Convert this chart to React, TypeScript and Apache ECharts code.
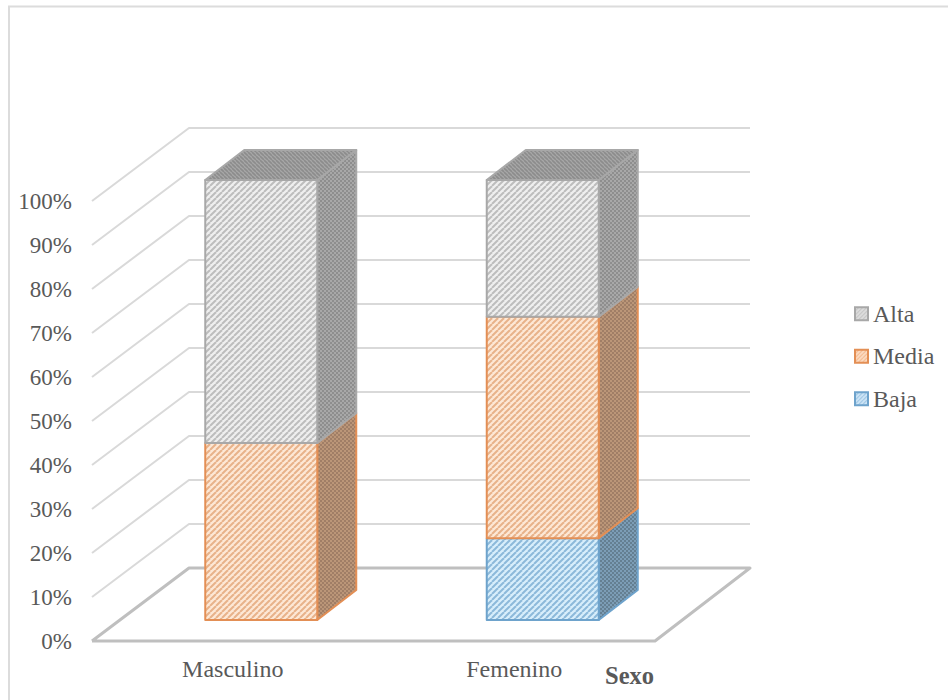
import React, { useEffect, useRef } from "react";
import * as echarts from "echarts";

const categories = ["Masculino", "Femenino"];
const yTicks = [0, 10, 20, 30, 40, 50, 60, 70, 80, 90, 100];
const bajaValues = [0, 18.6];
const mediaValues = [40.2, 50.3];
const altaValues = [59.8, 31.1];
const legendOrder = ["Alta", "Media", "Baja"];

const FONT = '"Liberation Serif", "Times New Roman", serif';
const TEXT = "#595959";

// Oblique projection of the depth axis, in pixels.
const WALL_DX = 97;
const WALL_DY = -73;
const BAR_SHIFT_X = 28.5;
const BAR_SHIFT_Y = -21;
const BAR_HALF = 56;
const BAR_DX = 39;
const BAR_DY = -30;

function stripes(bg: string, ink: string, period = 6, width = 2, flip = false) {
  const size = period;
  const c = document.createElement("canvas");
  c.width = size;
  c.height = size;
  const g = c.getContext("2d")!;
  g.fillStyle = bg;
  g.fillRect(0, 0, size, size);
  g.strokeStyle = ink;
  g.lineWidth = width;
  for (let i = -1; i <= 1; i++) {
    g.beginPath();
    if (flip) {
      g.moveTo(i * size, 0);
      g.lineTo(i * size + size, size);
    } else {
      g.moveTo(i * size, size);
      g.lineTo(i * size + size, 0);
    }
    g.stroke();
  }
  return { image: c, repeat: "repeat" as const };
}

function dots(bg: string, ink: string) {
  const c = document.createElement("canvas");
  c.width = 4;
  c.height = 4;
  const g = c.getContext("2d")!;
  g.fillStyle = bg;
  g.fillRect(0, 0, 4, 4);
  g.fillStyle = ink;
  g.fillRect(0, 0, 2, 2);
  g.fillRect(2, 2, 2, 2);
  return { image: c, repeat: "repeat" as const };
}

function barSeries(name: string, values: number[], below: number[], look: any) {
  return {
    name,
    type: "custom",
    coordinateSystem: "cartesian2d",
    z: 5,
    itemStyle: { color: look.legend, borderColor: look.edge, borderWidth: 2 },
    data: values.map((v, i) => [i, below[i], below[i] + v]),
    renderItem(_: any, api: any) {
      const i = api.value(0);
      if (api.value(2) <= api.value(1)) return null;
      const b = api.coord([i, api.value(1)]);
      const t = api.coord([i, api.value(2)]);
      const xc = b[0] + BAR_SHIFT_X;
      const x0 = xc - BAR_HALF;
      const x1 = xc + BAR_HALF;
      const yb = b[1] + BAR_SHIFT_Y;
      const yt = t[1] + BAR_SHIFT_Y;
      const line = { stroke: look.edge, lineWidth: 2, lineJoin: "round" };
      const children: any[] = [
        {
          type: "polygon",
          shape: { points: [[x1, yb], [x1 + BAR_DX, yb + BAR_DY], [x1 + BAR_DX, yt + BAR_DY], [x1, yt]] },
          style: { fill: look.side, ...line },
        },
        {
          type: "rect",
          shape: { x: x0, y: yt, width: x1 - x0, height: yb - yt },
          style: { fill: look.front, ...line },
        },
      ];
      if (look.top) {
        children.push({
          type: "polygon",
          shape: { points: [[x0, yt], [x0 + BAR_DX, yt + BAR_DY], [x1 + BAR_DX, yt + BAR_DY], [x1, yt]] },
          style: { fill: look.top, ...line },
        });
      }
      return { type: "group", children };
    },
  };
}

export default function App() {
  const ref = useRef<HTMLDivElement>(null);

  useEffect(() => {
    document.body.style.margin = "0";
    document.body.style.background = "#fff";
    const chart = echarts.init(ref.current!, undefined, { renderer: "svg" });

    const altaBelow = bajaValues.map((v, i) => v + mediaValues[i]);
    const looks = {
      Alta: {
        front: stripes("#efefef", "#bdbdbd"),
        side: dots("#a8a8a8", "#8e8e8e"),
        top: stripes("#a8a8a8", "#8c8c8c", 4, 1.6, true),
        edge: "#a8a8a8",
        legend: stripes("#dedede", "#c4c4c4", 4, 1.2),
      },
      Media: {
        front: stripes("#fde8d6", "#e8b28a"),
        side: dots("#bb9678", "#a07e66"),
        edge: "#e38f55",
        legend: stripes("#fbdcc4", "#f4b98e", 4, 1.2),
      },
      Baja: {
        front: stripes("#d8eefb", "#8cb9da"),
        side: dots("#7c9db6", "#647f92"),
        edge: "#6ea3cc",
        legend: stripes("#d0e6f7", "#9cc5e4", 4, 1.2),
      },
    };

    chart.setOption({
      animation: false,
      backgroundColor: "#fff",
      textStyle: { fontFamily: FONT },
      grid: { left: 92, top: 201, width: 563, height: 440, containLabel: false },
      legend: {
        data: legendOrder,
        orient: "vertical",
        left: 854,
        top: 300,
        padding: 0,
        itemWidth: 13,
        itemHeight: 13,
        itemGap: 15,
        icon: "rect",
        selectedMode: false,
        textStyle: { fontFamily: FONT, fontSize: 24, lineHeight: 27.5, color: TEXT },
      },
      xAxis: {
        type: "category",
        data: categories,
        axisLine: { show: false },
        axisTick: { show: false },
        axisLabel: { fontFamily: FONT, fontSize: 24, color: TEXT, margin: 16 },
      },
      yAxis: {
        type: "value",
        min: 0,
        max: 100,
        interval: 10,
        axisLine: { show: false },
        axisTick: { show: false },
        splitLine: { show: false },
        axisLabel: { fontFamily: FONT, fontSize: 23, color: TEXT, margin: 20, formatter: "{value}%" },
      },
      graphic: [
        {
          // Frame of the plot: left and top edges only.
          type: "polyline",
          z: -10,
          shape: { points: [[9, 700], [9, 6.5], [948, 6.5]] },
          style: { fill: "none", stroke: "#dcdcdc", lineWidth: 2 },
        },
        {
          type: "text",
          x: 605,
          y: 663,
          style: { text: "Sexo", font: `bold 24.5px ${FONT}`, fill: TEXT },
        },
      ],
      series: [
        {
          // Side wall and back wall rules, one per tick, with the floor outline at zero.
          name: "rules",
          type: "custom",
          coordinateSystem: "cartesian2d",
          silent: true,
          z: 1,
          data: yTicks.map((t) => [0, t]),
          renderItem(_: any, api: any) {
            const tick = api.value(1);
            const p = api.coord([0, tick]);
            const x0 = 92;
            const x1 = x0 + 563;
            const y = p[1];
            const color = tick === 0 ? "#bfbfbf" : "#d9d9d9";
            const lineWidth = tick === 0 ? 3 : 2;
            const points =
              tick === 0
                ? [
                    [x0, y],
                    [x0 + WALL_DX, y + WALL_DY],
                    [x1 + WALL_DX - 2, y + WALL_DY],
                    [x1, y],
                    [x0, y],
                  ]
                : [
                    [x0, y],
                    [x0 + WALL_DX, y + WALL_DY],
                    [x1 + WALL_DX - 2, y + WALL_DY],
                  ];
            return {
              type: "polyline",
              shape: { points },
              style: { fill: "none", stroke: color, lineWidth, lineJoin: "round" },
            };
          },
        },
        barSeries("Baja", bajaValues, categories.map(() => 0), looks.Baja),
        barSeries("Media", mediaValues, bajaValues, looks.Media),
        barSeries("Alta", altaValues, altaBelow, looks.Alta),
      ],
    });

    return () => chart.dispose();
  }, []);

  return <div ref={ref} style={{ position: "fixed", left: 0, top: 0, width: 948, height: 700 }} />;
}
